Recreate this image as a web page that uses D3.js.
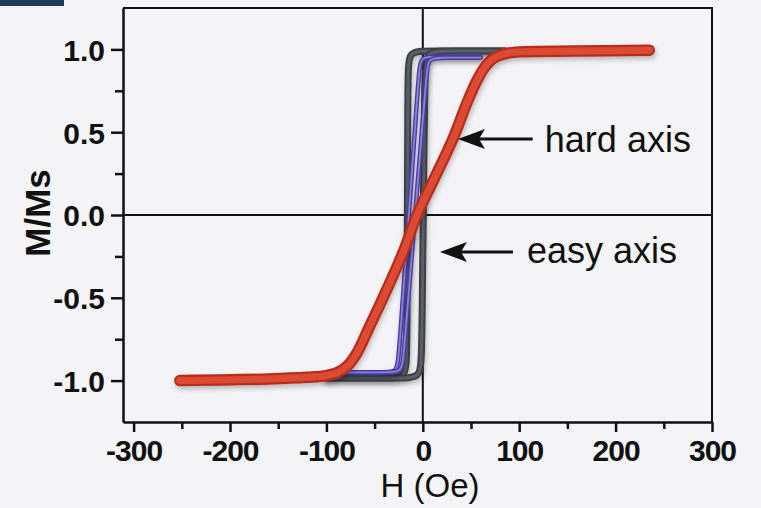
<!DOCTYPE html>
<html>
<head>
<meta charset="utf-8">
<script src="https://cdn.jsdelivr.net/npm/d3@7"></script>
<style>
  body { margin: 0; background: #f4f4f7; }
</style>
</head>
<body>
<div id="chart"></div>
<script>
// ticks
const xTicks = [-300, -200, -100, 0, 100, 200, 300];
const xMinor = [-250, -150, -50, 50, 150, 250];
const yTicks = [-1.0, -0.5, 0.0, 0.5, 1.0];
const yMinor = [-0.75, -0.25, 0.25, 0.75];

// hard axis loop (red), H in Oe, M/Ms
const hardH = [-252, -160, -120, -100, -88, -78, -68, -55, -42, -20, -6, 12, 32, 46, 56, 64, 73, 84, 100, 160, 235];
const hardM = [-1.0, -0.99, -0.98, -0.97, -0.95, -0.91, -0.83, -0.67, -0.51, -0.22, 0.0, 0.22, 0.47, 0.68, 0.81, 0.89, 0.945, 0.972, 0.985, 0.99, 0.995];

// easy axis loop (dark grey), descending and ascending branches
const easyDownH = [85, 5, -15, -15.5, -16.5, -17, -40, -100];
const easyDownM = [0.99, 0.99, 0.99, 0.86, -0.86, -0.985, -0.985, -0.985];
const easyUpH = [-100, -25, -2, -1, 2, 3, 25, 85];
const easyUpM = [-0.985, -0.985, -0.985, -0.86, 0.86, 0.99, 0.99, 0.99];

// intermediate loop (purple)
const midDownH = [60, 12, -3, -4, -25, -26, -45, -100];
const midDownM = [0.955, 0.955, 0.955, 0.85, -0.85, -0.955, -0.955, -0.955];
const midUpH = [-100, -40, -21, -20, 4, 5, 22, 60];
const midUpM = [-0.95, -0.95, -0.95, -0.85, 0.85, 0.95, 0.95, 0.95];

// annotations
const noteText = ["hard axis", "easy axis"];
const noteTipH = [36.5, 17.8];
const noteTailH = [114, 93.5];
const noteM = [0.459, -0.223];
const noteTextH = [126.6, 108];
const noteTextM = [0.38, -0.29];

const width = 761, height = 508;
const svg = d3.select("#chart").append("svg")
    .attr("width", width)
    .attr("height", height);

svg.append("rect")
    .attr("width", width).attr("height", height)
    .attr("fill", "#f4f4f7");

// leftover dark band in the top-left corner of the picture
svg.append("rect")
    .attr("x", 0).attr("y", 0).attr("width", 64).attr("height", 6)
    .attr("fill", "#1f3a58");

const defs = svg.append("defs");
const shadow = defs.append("filter").attr("id", "shadow")
    .attr("x", "-10%").attr("y", "-10%").attr("width", "120%").attr("height", "120%");
shadow.append("feDropShadow")
    .attr("dx", 1).attr("dy", 3).attr("stdDeviation", 2.5)
    .attr("flood-color", "#000").attr("flood-opacity", 0.25);

const x = d3.scaleLinear().domain([-311, 300]).range([123, 712]);
const y = d3.scaleLinear().domain([-1.25, 1.25]).range([422, 8]);

const font = "'Liberation Sans', Arial, sans-serif";

// zero lines and frame
svg.append("line")
    .attr("x1", x(-311)).attr("x2", x(300))
    .attr("y1", y(0)).attr("y2", y(0))
    .attr("stroke", "#111").attr("stroke-width", 2);
svg.append("line")
    .attr("x1", x(0)).attr("x2", x(0))
    .attr("y1", y(1.25)).attr("y2", y(-1.25))
    .attr("stroke", "#111").attr("stroke-width", 2);
svg.append("path")
    .attr("d", `M${x(-311)},${y(1.25)}H${x(300)}V${y(-1.25)}`)
    .attr("fill", "none").attr("stroke", "#111").attr("stroke-width", 2);

// axes
function styleAxis(g, spacing) {
    g.select(".domain").attr("stroke", "#111").attr("stroke-width", 2.5);
    g.selectAll(".tick line").attr("stroke", "#111").attr("stroke-width", 2.5);
    g.selectAll("text")
        .attr("fill", "#111")
        .attr("font-size", 30)
        .attr("font-weight", "bold")
        .attr("letter-spacing", spacing)
        .attr("font-family", font);
}

const yAxis = svg.append("g")
    .attr("transform", `translate(${x(-311)},0)`)
    .call(d3.axisLeft(y).tickValues(yTicks).tickSize(12).tickSizeOuter(0)
        .tickPadding(6).tickFormat(d => d.toFixed(1)));
styleAxis(yAxis, 0);
yAxis.selectAll("text").attr("dy", "0.36em");

const yMinorAxis = svg.append("g")
    .attr("transform", `translate(${x(-311)},0)`)
    .call(d3.axisLeft(y).tickValues(yMinor).tickSize(8).tickFormat(""));
yMinorAxis.select(".domain").remove();
styleAxis(yMinorAxis, 0);

const xAxis = svg.append("g")
    .attr("transform", `translate(0,${y(-1.25)})`)
    .call(d3.axisBottom(x).tickValues(xTicks).tickSize(10).tickSizeOuter(0)
        .tickPadding(8).tickFormat(d => String(d)));
styleAxis(xAxis, -1);

const xMinorAxis = svg.append("g")
    .attr("transform", `translate(0,${y(-1.25)})`)
    .call(d3.axisBottom(x).tickValues(xMinor).tickSize(7).tickFormat(""));
xMinorAxis.select(".domain").remove();
styleAxis(xMinorAxis, 0);

// axis titles
svg.append("text")
    .attr("x", 430).attr("y", 497)
    .attr("text-anchor", "middle")
    .attr("font-family", font).attr("font-size", 33)
    .attr("fill", "#111")
    .text("H (Oe)");

svg.append("text")
    .attr("transform", "translate(50,213) rotate(-90)")
    .attr("text-anchor", "middle")
    .attr("font-family", font).attr("font-size", 35).attr("font-weight", "bold")
    .attr("fill", "#111")
    .text("M/Ms");

// curves
const zip = (a, b) => a.map((v, i) => [v, b[i]]);
const loopLine = d3.line().x(d => x(d[0])).y(d => y(d[1])).curve(d3.curveBasis);
const hardLine = d3.line().x(d => x(d[0])).y(d => y(d[1])).curve(d3.curveCatmullRom);

const curves = svg.append("g");

function tube(path, outer, inner, wOuter, wInner) {
    curves.append("path")
        .attr("d", path).attr("fill", "none")
        .attr("stroke", outer).attr("stroke-width", wOuter)
        .attr("stroke-linecap", "round").attr("stroke-linejoin", "round")
        .attr("filter", "url(#shadow)");
    curves.append("path")
        .attr("d", path).attr("fill", "none")
        .attr("stroke", inner).attr("stroke-width", wInner)
        .attr("stroke-linecap", "round").attr("stroke-linejoin", "round");
}

tube(loopLine(zip(easyDownH, easyDownM)), "#3b4048", "#5a5f67", 7, 3);
tube(loopLine(zip(easyUpH, easyUpM)), "#3b4048", "#5a5f67", 7, 3);
tube(loopLine(zip(midDownH, midDownM)), "#4a3d9e", "#8c82dc", 4.5, 1.8);
tube(loopLine(zip(midUpH, midUpM)), "#4a3d9e", "#8c82dc", 4.5, 1.8);
tube(hardLine(zip(hardH, hardM)), "#b52f1f", "#dd4a33", 11.5, 7);

// annotations
const notes = svg.append("g");
noteText.forEach((t, i) => {
    const tip = x(noteTipH[i]), tail = x(noteTailH[i]), yy = y(noteM[i]);
    notes.append("line")
        .attr("x1", tail).attr("x2", tip + 20)
        .attr("y1", yy).attr("y2", yy)
        .attr("stroke", "#111").attr("stroke-width", 3);
    notes.append("path")
        .attr("d", `M${tip},${yy}L${tip + 27},${yy - 10}L${tip + 21},${yy}L${tip + 27},${yy + 10}Z`)
        .attr("fill", "#111");
    notes.append("text")
        .attr("x", x(noteTextH[i])).attr("y", y(noteTextM[i]))
        .attr("font-family", font).attr("font-size", 36)
        .attr("fill", "#111")
        .text(t);
});
</script>
</body>
</html>
